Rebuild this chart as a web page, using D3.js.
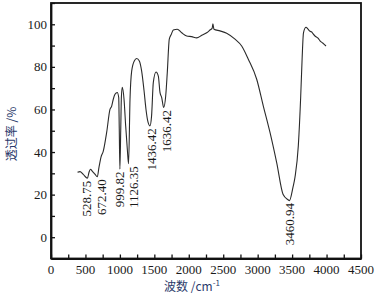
<!DOCTYPE html>
<html>
<head>
<meta charset="utf-8">
<script src="https://cdn.jsdelivr.net/npm/d3@7"></script>
<style>
  body { margin: 0; background: #fff; }
  svg { display: block; }
</style>
</head>
<body>
<div id="wrapper"></div>
<script>
// IR spectrum
const wavenumbers = [
    385, 421, 465, 529, 552, 573, 595, 639, 672, 697, 726, 759, 808, 856, 881, 904, 929, 962,
    983, 991, 1000, 1012, 1022, 1035, 1060, 1084, 1108, 1126, 1147, 1171, 1209, 1244, 1282, 1316,
    1350, 1379, 1405, 1436, 1460, 1485, 1524, 1558, 1582, 1607, 1636, 1665, 1688, 1717, 1745,
    1775, 1833, 1897, 1970, 2042, 2115, 2188, 2260, 2308, 2340, 2350, 2365, 2453, 2550, 2671,
    2768, 2864, 2986, 3082, 3179, 3276, 3368, 3440, 3461, 3513, 3542, 3590, 3625, 3645, 3665,
    3702, 3731, 3760, 3785, 3803, 3832, 3876, 3905, 3948, 3992
]
const transmittance = [
    30.5, 30.8, 29.6, 27.7, 30.5, 31.9, 31.2, 29.6, 28.4, 32.9, 37.6, 40.4, 49.2, 60, 61.6, 64.8, 67.1, 68,
    65.6, 50.7, 32, 50, 66, 70.4, 64.8, 52.3, 41.3, 34.5, 64.8, 78, 82.8, 83.9, 82.8, 78,
    69, 60, 54.5, 52.3, 57, 72.6, 77.6, 75.7, 68, 65.6, 60.9, 66.3, 77.3, 93, 95.2,
    97.3, 97.7, 96, 94.5, 94.2, 93.6, 94.8, 96, 97.3, 98.2, 100.2, 97.7, 96.9, 95.8, 93,
    89.8, 83.6, 74.2, 61.6, 49.2, 35, 20.2, 17.6, 17.2, 23.5, 28.2, 42.9, 66.3, 83.6, 96,
    98.6, 97.7, 96.7, 96.4, 95.6, 94.5, 93.5, 92.2, 91.1, 89.8
]

const peakLabels = ["528.75", "672.40", "999.82", "1126.35", "1436.42", "1636.42", "3460.94"]

const xTicks = d3.range(0, 4501, 500)
const xMinorTicks = d3.range(0, 4501, 250)
const yTicks = [0, 20, 40, 60, 80, 100]
const yMinorTicks = d3.range(-10, 111, 10)

const xTitle = "波数 /cm"
const yTitle = "透过率 /%"

// layout
let dimensions = {
    width: 383,
    height: 297,
    left: 51,
    right: 361,
    top: 3,
    bottom: 258.5,
}

// small nudges so the peak labels sit where the original put them
const labelNudge = {
    "528.75": -1, "672.40": 4, "999.82": -0.5, "1126.35": 5,
    "1436.42": 1, "1636.42": 3, "3460.94": 0.5
}

const data = wavenumbers.map((w, i) => ({ w: w, t: transmittance[i] }))

let xScale = d3.scaleLinear()
    .domain([0, 4500])
    .range([dimensions.left, dimensions.right])

let yScale = d3.scaleLinear()
    .domain([-10, 110])
    .range([dimensions.bottom, dimensions.top])

let svg = d3.select("#wrapper")
    .append("svg")
    .attr("width", dimensions.width)
    .attr("height", dimensions.height)

const numFont = "'Liberation Serif', 'DejaVu Serif', serif"
const cjkFont = "'Noto Sans CJK SC', sans-serif"

// frame
svg.append("rect")
    .attr("x", dimensions.left)
    .attr("y", dimensions.top)
    .attr("width", dimensions.right - dimensions.left)
    .attr("height", dimensions.bottom - dimensions.top)
    .attr("fill", "none")
    .attr("stroke", "#111")
    .attr("stroke-width", 1.8)

// x axis, ticks pointing inward
let xAxis = svg.append("g")
    .attr("transform", `translate(0,${dimensions.bottom})`)
    .call(d3.axisBottom(xScale).tickValues(xMinorTicks).tickSizeInner(-4).tickSizeOuter(0).tickFormat(""))
xAxis.select(".domain").attr("stroke-width", 1.8).attr("stroke", "#111")
xAxis.selectAll(".tick line").attr("stroke", "#111").attr("stroke-width", 1.3)

svg.append("g")
    .selectAll("text")
    .data(xTicks)
    .join("text")
    .attr("x", d => xScale(d))
    .attr("y", dimensions.bottom + 15)
    .attr("text-anchor", "middle")
    .style("font-family", numFont)
    .style("font-size", "13px")
    .attr("fill", "#1a1a1a")
    .text(d => d)

// y axis
let yAxis = svg.append("g")
    .attr("transform", `translate(${dimensions.left},0)`)
    .call(d3.axisLeft(yScale).tickValues(yMinorTicks).tickSizeInner(-4).tickSizeOuter(0).tickFormat(""))
yAxis.select(".domain").attr("stroke-width", 1.8).attr("stroke", "#111")
yAxis.selectAll(".tick line").attr("stroke", "#111").attr("stroke-width", 1.3)

svg.append("g")
    .selectAll("text")
    .data(yTicks)
    .join("text")
    .attr("x", dimensions.left - 4)
    .attr("y", d => yScale(d))
    .attr("dy", "0.35em")
    .attr("text-anchor", "end")
    .style("font-family", numFont)
    .style("font-size", "13px")
    .attr("fill", "#1a1a1a")
    .text(d => d)

// spectrum
svg.append("path")
    .datum(data)
    .attr("d", d3.line()
        .x(d => xScale(d.w))
        .y(d => yScale(d.t))
        .curve(d3.curveMonotoneX))
    .attr("fill", "none")
    .attr("stroke", "#2a2a2a")
    .attr("stroke-width", 1.1)

// peak labels, vertical, just under each minimum
function minAt(w) {
    let best = data[0]
    data.forEach(d => { if (Math.abs(d.w - w) < Math.abs(best.w - w)) best = d })
    return best.t
}

svg.append("g")
    .selectAll("text")
    .data(peakLabels)
    .join("text")
    .attr("transform", d => {
        let w = parseFloat(d)
        let x = xScale(w) + labelNudge[d]
        let y = yScale(minAt(w)) + 2.5
        return `translate(${x},${y}) rotate(-90)`
    })
    .attr("text-anchor", "end")
    .attr("dy", "0.35em")
    .style("font-family", numFont)
    .style("font-size", "13px")
    .attr("fill", "#1a1a1a")
    .text(d => d)

// axis titles
let xt = svg.append("text")
    .attr("x", 192)
    .attr("y", 291)
    .attr("text-anchor", "middle")
    .style("font-family", cjkFont)
    .style("font-size", "12px")
    .attr("fill", "#2b3a6b")
xt.append("tspan").text(xTitle)
xt.append("tspan").attr("dy", -5).style("font-size", "8px").text("-1")

svg.append("text")
    .attr("transform", `translate(16,134) rotate(-90)`)
    .attr("text-anchor", "middle")
    .style("font-family", cjkFont)
    .style("font-size", "12px")
    .attr("fill", "#2b3a6b")
    .text(yTitle)
</script>
</body>
</html>
